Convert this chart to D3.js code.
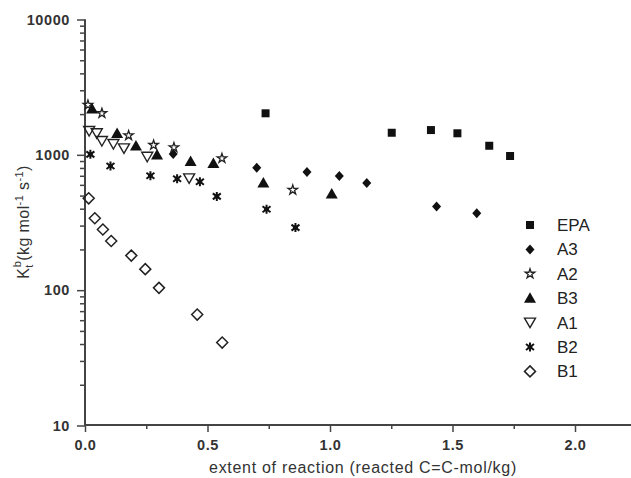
<!DOCTYPE html>
<html><head><meta charset="utf-8">
<script src="https://cdn.jsdelivr.net/npm/d3@7"></script>
<style>body{margin:0;background:#fff}svg{display:block}</style>
</head><body>
<svg id="c" width="631" height="478"></svg>
<script>
const seriesNames = ["EPA","A3","A2","B3","A1","B2","B1"];
const EPA = [[0.737,2027],[1.252,1456],[1.412,1524],[1.52,1443],[1.65,1167],[1.735,980]];
const A3 = [[0.36,1013],[0.701,803],[0.906,746],[1.038,697],[1.15,620],[1.435,416],[1.599,370]];
const A2 = [[0.012,2334],[0.069,2027],[0.178,1390],[0.28,1181],[0.363,1133],[0.559,942],[0.848,550]];
const B3 = [[0.029,2177],[0.131,1435],[0.208,1161],[0.294,996],[0.431,891],[0.524,863],[0.728,620],[1.007,513]];
const A1 = [[0.017,1500],[0.048,1443],[0.069,1265],[0.116,1202],[0.159,1117],[0.254,968],[0.425,670]];
const B2 = [[0.022,1008],[0.104,826],[0.267,701],[0.376,665],[0.469,632],[0.538,493],[0.741,396],[0.859,290]];
const B1 = [[0.015,477],[0.040,340],[0.073,281],[0.107,231],[0.189,180],[0.246,143],[0.302,104],[0.458,66],[0.560,41]];
const xTicks = [0,0.5,1.0,1.5,2.0];
const xMinor = [0.25,0.75,1.25,1.75];
const yTicks = [10,100,1000,10000];

const data = {EPA,A3,A2,B3,A1,B2,B1};
const svg = d3.select("#c");
const x = d3.scaleLinear().domain([0,2.25]).range([85,636.25]);
const y = d3.scaleLog().domain([10,10000]).range([425.5,19.5]);
const axisColor = "#444";
const font = "Arial, 'Liberation Sans', sans-serif";

function shape(name){
  switch(name){
    case "EPA": return {d:"M-4,-4H4V4H-4Z", fill:"#111", stroke:"none"};
    case "A3": return {d:"M0,-5L4.5,0L0,5L-4.5,0Z", fill:"#111", stroke:"none"};
    case "A2": return {d:d3.symbol(d3.symbolStar,28)(), fill:"none", stroke:"#222", sw:1.3};
    case "B3": return {d:"M0,-6L6,4.5H-6Z", fill:"#111", stroke:"none"};
    case "A1": return {d:"M0,5L5.5,-4.5H-5.5Z", fill:"none", stroke:"#222", sw:1.4};
    case "B2": return {d:"M0,-4.5V4.5M-4,-3L4,3M-4,3L4,-3M-2.5,0H2.5", fill:"none", stroke:"#111", sw:2};
    case "B1": return {d:"M0,-5.5L5.5,0L0,5.5L-5.5,0Z", fill:"none", stroke:"#222", sw:1.5};
  }
}

const gx = svg.append("g").attr("transform","translate(0,425)");
gx.call(d3.axisBottom(x).tickValues(xTicks).tickFormat(d3.format(".1f")).tickSize(7).tickPadding(8));
gx.append("g").call(d3.axisBottom(x).tickValues(xMinor).tickFormat("").tickSize(4));
const gy = svg.append("g").attr("transform","translate(85,0)");
const yMinor = [];
[10,100,1000].forEach(b=>{for(let k=2;k<=9;k++) yMinor.push(b*k);});
gy.call(d3.axisLeft(y).tickValues(yTicks).tickFormat(d3.format("d")).tickSize(8).tickPadding(7));
gy.append("g").call(d3.axisLeft(y).tickValues(yMinor).tickFormat("").tickSize(5));
svg.selectAll(".domain").attr("stroke",axisColor).attr("stroke-width",2);
gx.selectAll(".domain").attr("d","M85,0H631");
gy.selectAll(".domain").attr("d","M0,19.5V425.5");
svg.selectAll(".tick line").attr("stroke",axisColor).attr("stroke-width",1.5);
svg.selectAll(".tick text").attr("font-family",font).attr("font-size",14.5).attr("font-weight","bold")
   .attr("letter-spacing","0.6px").attr("fill","#333");

seriesNames.forEach(n=>{
  const s = shape(n);
  svg.append("g").selectAll("path").data(data[n]).join("path")
    .attr("d",s.d).attr("fill",s.fill).attr("stroke",s.stroke).attr("stroke-width",s.sw||0)
    .attr("transform",d=>`translate(${x(d[0])},${y(d[1])})`);
});

const lg = svg.append("g");
seriesNames.forEach((n,i)=>{
  const s = shape(n);
  const yy = 225 + i*24.4;
  lg.append("path").attr("d",s.d).attr("fill",s.fill).attr("stroke",s.stroke).attr("stroke-width",s.sw||0)
    .attr("transform",`translate(530,${yy})`);
  lg.append("text").attr("x",557).attr("y",yy+6).text(n)
    .attr("font-family",font).attr("font-size",17).attr("fill","#222");
});

svg.append("text").attr("x",363).attr("y",473).attr("text-anchor","middle")
  .attr("font-family",font).attr("font-size",16).attr("letter-spacing","0.7px").attr("fill","#333")
  .text("extent of reaction (reacted C=C-mol/kg)");
const yl = svg.append("text").attr("transform","translate(29,222) rotate(-90)").attr("text-anchor","middle")
  .attr("font-family",font).attr("font-size",16).attr("letter-spacing","0.4px").attr("fill","#333");
yl.append("tspan").text("K");
yl.append("tspan").attr("font-size",11).attr("dy",4).text("t");
yl.append("tspan").attr("font-size",11).attr("dx",-3).attr("dy",-12).text("b");
yl.append("tspan").attr("dy",8).text("(kg mol");
yl.append("tspan").attr("font-size",11).attr("dy",-6).text("-1");
yl.append("tspan").attr("dy",6).text(" s");
yl.append("tspan").attr("font-size",11).attr("dy",-6).text("-1");
yl.append("tspan").attr("dy",6).text(")");
</script>
</body></html>
